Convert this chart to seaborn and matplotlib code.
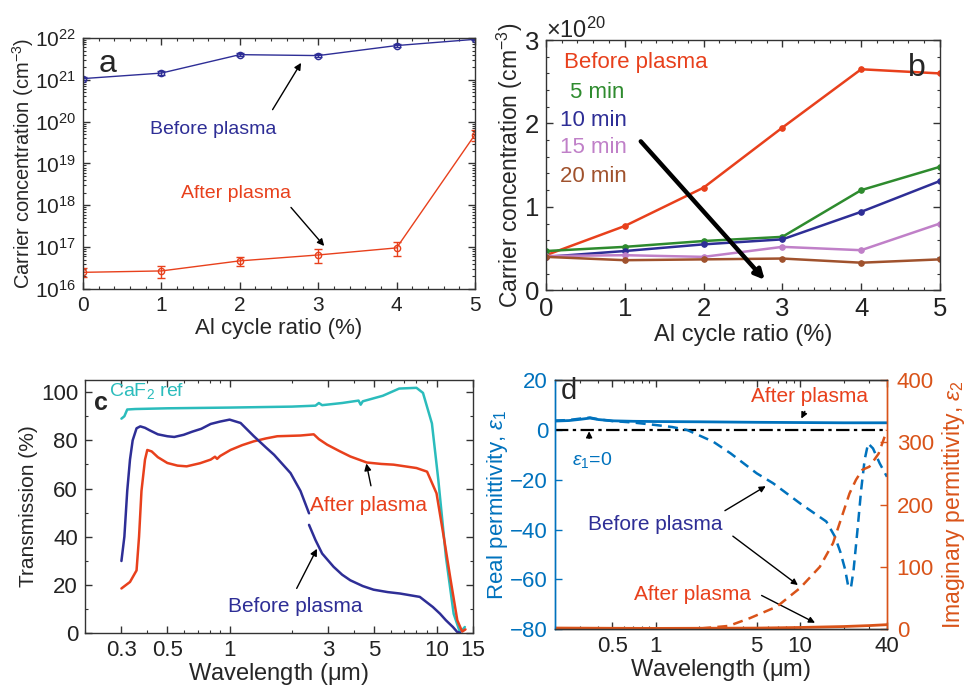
import numpy as np
import pandas as pd
import matplotlib
matplotlib.use("Agg")
import matplotlib.pyplot as plt
from matplotlib.ticker import AutoMinorLocator, LogLocator, FixedLocator, NullFormatter, FuncFormatter
import seaborn as sns

# ---- panel a: carrier concentration (log) ----
al_ratio = [0, 1, 2, 3, 4, 5]
n_before = [1.07e21, 1.45e21, 4.0e21, 3.8e21, 6.6e21, 9.3e21]
n_before_err = [0.08e21, 0.15e21, 0.35e21, 0.3e21, 0.6e21, 0.5e21]
n_after = [2.5e16, 2.7e16, 4.7e16, 6.5e16, 9.6e16, 4.9e19]
n_after_err = [0.6e16, 0.85e16, 1.25e16, 2.3e16, 3.5e16, 1.5e19]

# ---- panel b: carrier concentration vs plasma time ----
b_before = [0.42e20, 0.77e20, 1.23e20, 1.95e20, 2.65e20, 2.60e20]
b_5min = [0.47e20, 0.52e20, 0.59e20, 0.64e20, 1.20e20, 1.48e20]
b_10min = [0.40e20, 0.47e20, 0.55e20, 0.61e20, 0.94e20, 1.31e20]
b_15min = [0.41e20, 0.42e20, 0.40e20, 0.52e20, 0.48e20, 0.80e20]
b_20min = [0.40e20, 0.36e20, 0.37e20, 0.38e20, 0.33e20, 0.37e20]
b_labels = ["Before plasma", "5 min", "10 min", "15 min", "20 min"]

# ---- panel c: transmission ----
wl_caf2 = [0.30, 0.31, 0.32, 0.35, 0.5, 1.0, 2.0, 2.6, 2.7, 2.8, 3.5, 4.2, 4.3, 4.4, 5.5, 6.6, 8.0, 8.6, 9.5, 10.2, 11.1, 12.1, 12.9, 13.4, 13.7]
tr_caf2 = [89, 90, 92.8, 93.0, 93.3, 93.6, 94.0, 94.4, 95.5, 94.6, 95.5, 96.5, 94.8, 96.2, 98.5, 101.5, 101.8, 99.7, 87, 63.6, 31.7, 8, 1, 1.5, 2.5]
wl_bef1 = [0.30, 0.31, 0.32, 0.33, 0.34, 0.355, 0.37, 0.39, 0.41, 0.45, 0.5, 0.54, 0.6, 0.66, 0.73, 0.81, 0.9, 1.0, 1.13, 1.31, 1.5, 1.64, 1.97, 2.2, 2.42]
tr_bef1 = [29.9, 40, 59, 72, 80, 85.0, 85.8, 85.2, 84.2, 82.5, 81.7, 81.4, 82.3, 83.6, 84.8, 86.8, 87.8, 88.6, 87.2, 81.7, 77, 74, 66.4, 59, 49.7]
wl_bef2 = [2.42, 2.6, 2.8, 3.18, 3.5, 3.83, 4.4, 4.96, 5.8, 6.66, 8.3, 9.6, 10.4, 11.1, 12.0, 12.6, 13.0]
tr_bef2 = [44.9, 38.6, 33, 27.5, 24.2, 21.9, 19.5, 18, 17, 16.4, 15, 10.8, 8, 5.3, 2.5, 0.4, 0.2]
wl_aft = [0.30, 0.33, 0.355, 0.365, 0.375, 0.39, 0.40, 0.42, 0.45, 0.5, 0.56, 0.62, 0.72, 0.81, 0.85, 0.87, 0.9, 1.01, 1.15, 1.31, 1.5, 1.7, 2.2, 2.55, 2.7, 2.96, 3.4, 3.83, 4.6, 5.4, 6.2, 8.0, 9.0, 10.0, 10.9, 11.7, 12.6, 13.3, 13.8]
tr_aft = [18.5, 21.2, 26, 40, 59, 72, 76, 75.4, 73, 70.6, 69.5, 69.2, 70.5, 72, 73.2, 72.3, 73.5, 76, 78, 79.6, 80.8, 81.7, 82, 82.5, 80.5, 78.2, 75.5, 73.3, 70.8, 70.2, 69.9, 68.5, 67, 58, 38.6, 22, 5.3, 0.6, 1.5]

# ---- panel d: permittivity ----
wl_e1_aft = [0.2, 0.25, 0.3, 0.35, 0.4, 0.5, 0.7, 1.0, 2.0, 5.0, 10.0, 20.0, 40.0]
e1_aft = [3.6, 3.8, 4.3, 4.8, 4.2, 3.7, 3.5, 3.4, 3.3, 3.1, 3.0, 2.9, 2.9]
wl_e1_bef = [0.2, 0.25, 0.3, 0.35, 0.4, 0.5, 0.7, 1.0, 1.3, 1.65, 2.5, 3.3, 5.0, 6.5, 10.0, 15.2, 17.4, 19.0, 20.5, 21.5, 22.5, 23.5, 25.0, 26.5, 28.0, 29.6, 32.0, 35.6, 40.0]
e1_bef = [3.8, 4.0, 4.6, 5.0, 4.3, 3.6, 3.0, 2.0, 1.2, 0.0, -4.7, -9.4, -17.4, -21.4, -29.5, -36.8, -42.8, -49, -56, -62.5, -63.5, -56, -40, -24, -12, -5.4, -7.4, -13.4, -18.8]
wl_e2_bef = [0.2, 0.5, 1.0, 1.94, 3.2, 4.5, 6.9, 10.0, 13.7, 16.9, 19.8, 22.0, 24.4, 27.0, 30.2, 35.0, 40.0]
e2_bef = [0, 0, 0, 0.5, 5, 17.6, 36, 66, 100, 138, 186, 218, 240, 256, 261, 282, 320]
wl_e2_aft = [0.2, 0.5, 1.0, 5.0, 10.0, 20.0, 30.0, 40.0]
e2_aft = [1.6, 1.2, 1.0, 1.5, 2.5, 4.0, 5.5, 7.0]

RED = "#e8401c"
NAVY = "#2e2e96"
CYAN = "#2bbcbc"
GREEN = "#2e8b2e"
PURPLE = "#c080c8"
BROWN = "#a0522d"
MBLUE = "#0072BD"
MORANGE = "#D95319"

sns.set_theme(style="ticks")
plt.rcParams["font.family"] = ["Liberation Sans", "DejaVu Sans"]
plt.rcParams["mathtext.fontset"] = "custom"
plt.rcParams["mathtext.rm"] = "Liberation Sans"
plt.rcParams["mathtext.it"] = "Liberation Sans:italic"
plt.rcParams["mathtext.default"] = "regular"
plt.rcParams["axes.linewidth"] = 1.0

fig = plt.figure(figsize=(9.68, 6.91), dpi=100)
ax_a = fig.add_axes([0.0857, 0.5818, 0.405, 0.3632])
ax_b = fig.add_axes([0.564, 0.580, 0.407, 0.362])
ax_c = fig.add_axes([0.0878, 0.0839, 0.4008, 0.366])
ax_d = fig.add_axes([0.5733, 0.0897, 0.343, 0.360])

TICK = 15


def style_ticks(ax, right=True):
    ax.tick_params(which="both", direction="in", top=True, right=right)
    ax.tick_params(which="major", length=5, width=1, labelsize=TICK, color="#333333",
                   labelcolor="#222222", pad=5)
    ax.tick_params(which="minor", length=2.5, width=0.8, color="#333333")
    for s in ax.spines.values():
        s.set_color("#333333")


# ---------------- panel a ----------------
ax = ax_a
ax.set_yscale("log")
ax.errorbar(al_ratio, n_before, yerr=n_before_err, fmt="none", ecolor=NAVY, elinewidth=1, capsize=3)
ax.errorbar(al_ratio, n_after, yerr=n_after_err, fmt="none", ecolor=RED, elinewidth=1, capsize=3)
sns.lineplot(x=al_ratio, y=n_before, ax=ax, color=NAVY, lw=1, marker="o", ms=4.5,
             mfc="none", mec=NAVY, mew=1)
sns.lineplot(x=al_ratio, y=n_after, ax=ax, color=RED, lw=1, marker="o", ms=4.5,
             mfc="none", mec=RED, mew=1)
ax.set_xlim(0, 5)
ax.set_ylim(1e16, 1e22)
ax.set_xticks(range(6))
ax.xaxis.set_minor_locator(AutoMinorLocator(5))
ax.yaxis.set_major_locator(LogLocator(base=10, numticks=10))
ax.yaxis.set_minor_locator(LogLocator(base=10, subs=np.arange(2, 10), numticks=100))
ax.yaxis.set_minor_formatter(NullFormatter())
style_ticks(ax)
ax.set_xlabel("Al cycle ratio (%)", fontsize=16, labelpad=2)
ax.set_ylabel("Carrier concentration (cm$^{-3}$)", fontsize=14.5, labelpad=-1)
ax.text(0.04, 0.955, "a", transform=ax.transAxes, fontsize=23, va="top", ha="left")
ax.text(0.85, 6.5e19, "Before plasma", color=NAVY, fontsize=14, va="center")
ax.annotate("", xy=(2.8, 2.9e21), xytext=(2.4, 1.7e20),
            arrowprops=dict(arrowstyle="-|>", color="black", lw=1, mutation_scale=10))
ax.text(1.25, 1.9e18, "After plasma", color=RED, fontsize=14, va="center")
ax.annotate("", xy=(3.1, 9.5e16), xytext=(2.63, 1.0e18),
            arrowprops=dict(arrowstyle="-|>", color="black", lw=1, mutation_scale=10))

# ---------------- panel b ----------------
ax = ax_b
b_series = [b_before, b_5min, b_10min, b_15min, b_20min]
b_colors = [RED, GREEN, NAVY, PURPLE, BROWN]
for vals, col in zip(b_series, b_colors):
    sns.lineplot(x=al_ratio, y=vals, ax=ax, color=col, lw=1.8, marker="o", ms=4,
                 mec=col, mfc=col)
ax.set_xlim(0, 5)
ax.set_ylim(0, 3e20)
ax.set_xticks(range(6))
ax.set_yticks([0, 1e20, 2e20, 3e20])
ax.yaxis.set_major_formatter(FuncFormatter(lambda v, p: f"{v / 1e20:g}"))
ax.xaxis.set_minor_locator(AutoMinorLocator(5))
ax.yaxis.set_minor_locator(AutoMinorLocator(5))
style_ticks(ax)
ax.tick_params(which="major", labelsize=18.5)
ax.text(0.0, 0.99, "$\\times$10$^{20}$", transform=ax.transAxes, fontsize=17,
        ha="left", va="bottom")
ax.set_xlabel("Al cycle ratio (%)", fontsize=17, labelpad=2)
ax.set_ylabel("Carrier concentration (cm$^{-3}$)", fontsize=16.5, labelpad=0)
ax.text(0.965, 0.95, "b", transform=ax.transAxes, fontsize=23, va="top", ha="right")
leg_y = [0.91, 0.79, 0.68, 0.57, 0.455]
leg_x = [0.045, 0.06, 0.035, 0.035, 0.035]
for lbl, col, yy, xx in zip(b_labels, b_colors, leg_y, leg_x):
    ax.text(xx, yy, lbl, color=col, fontsize=16, transform=ax.transAxes, va="center", ha="left")
ax.annotate("", xy=(2.8, 0.1e20), xytext=(1.18, 1.81e20),
            arrowprops=dict(arrowstyle="-|>", color="black", lw=3.2, mutation_scale=14))

# ---------------- panel c ----------------
ax = ax_c
ax.set_xscale("log")
sns.lineplot(x=wl_caf2, y=tr_caf2, ax=ax, color=CYAN, lw=1.8)
sns.lineplot(x=wl_aft, y=tr_aft, ax=ax, color=RED, lw=1.8)
sns.lineplot(x=wl_bef1, y=tr_bef1, ax=ax, color=NAVY, lw=1.8)
sns.lineplot(x=wl_bef2, y=tr_bef2, ax=ax, color=NAVY, lw=1.8)
ax.set_xlim(0.2, 15)
ax.set_ylim(0, 105)
ax.xaxis.set_major_locator(FixedLocator([0.3, 0.5, 1, 3, 5, 10, 15]))
ax.set_xticklabels(["0.3", "0.5", "1", "3", "5", "10", "15"])
ax.xaxis.set_minor_locator(LogLocator(base=10, subs=np.arange(2, 10), numticks=100))
ax.xaxis.set_minor_formatter(NullFormatter())
ax.set_yticks(range(0, 101, 20))
ax.yaxis.set_minor_locator(AutoMinorLocator(2))
style_ticks(ax)
ax.tick_params(which="major", labelsize=16)
ax.set_xlabel("Wavelength ($\\mu$m)", fontsize=17, labelpad=0)
ax.set_ylabel("Transmission (%)", fontsize=15, labelpad=2)
ax.text(0.222, 95.5, "c", fontsize=18, fontweight="bold", va="center", ha="left")
ax.text(0.262, 100.5, "CaF$_2$ ref", color=CYAN, fontsize=14, va="center", ha="left")
ax.text(2.45, 53, "After plasma", color=RED, fontsize=15, va="center", ha="left")
ax.annotate("", xy=(4.55, 71.5), xytext=(4.85, 60),
            arrowprops=dict(arrowstyle="-|>", color="black", lw=1, mutation_scale=10))
ax.text(0.98, 11, "Before plasma", color=NAVY, fontsize=15, va="center", ha="left")
ax.annotate("", xy=(2.68, 36), xytext=(2.08, 17.5),
            arrowprops=dict(arrowstyle="-|>", color="black", lw=1, mutation_scale=10))

# ---------------- panel d ----------------
ax = ax_d
ax2 = ax.twinx()
ax.set_xscale("log")
ax.axhline(0, color="black", lw=1.6, ls=(0, (6, 2, 1.5, 2)))
sns.lineplot(x=wl_e1_aft, y=e1_aft, ax=ax, color=MBLUE, lw=2)
sns.lineplot(x=wl_e1_bef, y=e1_bef, ax=ax, color=MBLUE, lw=1.8, linestyle=(0, (4, 2.5)))
sns.lineplot(x=wl_e2_bef, y=e2_bef, ax=ax2, color=MORANGE, lw=1.8, linestyle=(0, (4, 2.5)))
sns.lineplot(x=wl_e2_aft, y=e2_aft, ax=ax2, color=MORANGE, lw=2)
ax.set_xlim(0.2, 40)
ax.set_ylim(-80, 20)
ax2.set_ylim(0, 400)
ax.xaxis.set_major_locator(FixedLocator([0.5, 1, 5, 10, 40]))
ax.set_xticklabels(["0.5", "1", "5", "10", "40"])
ax.xaxis.set_minor_locator(LogLocator(base=10, subs=np.arange(2, 10), numticks=100))
ax.xaxis.set_minor_formatter(NullFormatter())
ax.set_yticks(range(-80, 21, 20))
ax2.set_yticks(range(0, 401, 100))
style_ticks(ax, right=False)
style_ticks(ax2)
ax.tick_params(axis="y", which="both", right=False, color=MBLUE, labelcolor=MBLUE, labelsize=16)
ax.tick_params(axis="x", labelsize=16)
ax2.tick_params(axis="y", which="both", left=False, color=MORANGE, labelcolor=MORANGE,
                labelsize=16, pad=7)
ax2.spines["left"].set_color(MBLUE)
ax2.spines["right"].set_color(MORANGE)
ax.spines["left"].set_color(MBLUE)
ax.spines["right"].set_color(MORANGE)
ax.set_xlabel("Wavelength ($\\mu$m)", fontsize=17, labelpad=0)
ax.set_ylabel("Real permittivity, $\\mathit{\\epsilon_1}$", fontsize=16, color=MBLUE, labelpad=0)
ax2.set_ylabel("Imaginary permittivity, $\\mathit{\\epsilon_2}$", fontsize=16.5, color=MORANGE, labelpad=4)
ax.text(0.22, 15.5, "d", fontsize=21, va="center", ha="left")
ax.text(4.6, 13.5, "After plasma", color=RED, fontsize=15, va="center", ha="left")
ax.annotate("", xy=(10.0, 3.6), xytext=(11.0, 8.5),
            arrowprops=dict(arrowstyle="-|>", color="black", lw=1, mutation_scale=9))
ax.text(0.36, -12, "$\\mathit{\\epsilon_1}$=$\\mathit{0}$", color=MBLUE, fontsize=14, va="center", ha="center")
ax.annotate("", xy=(0.345, 0.6), xytext=(0.345, -4.5),
            arrowprops=dict(arrowstyle="-|>", color="black", lw=1, mutation_scale=9))
ax.text(0.34, -38, "Before plasma", color=NAVY, fontsize=15, va="center", ha="left")
ax.annotate("", xy=(6.0, -22), xytext=(2.9, -33),
            arrowprops=dict(arrowstyle="-|>", color="black", lw=1, mutation_scale=9))
ax.annotate("", xy=(10.0, -63), xytext=(3.3, -42),
            arrowprops=dict(arrowstyle="-|>", color="black", lw=1, mutation_scale=9))
ax.text(1.8, -66, "After plasma", color=RED, fontsize=15, va="center", ha="center")
ax.annotate("", xy=(13.2, -78), xytext=(5.2, -66),
            arrowprops=dict(arrowstyle="-|>", color="black", lw=1, mutation_scale=9))

fig.savefig("out.png", dpi=100)
